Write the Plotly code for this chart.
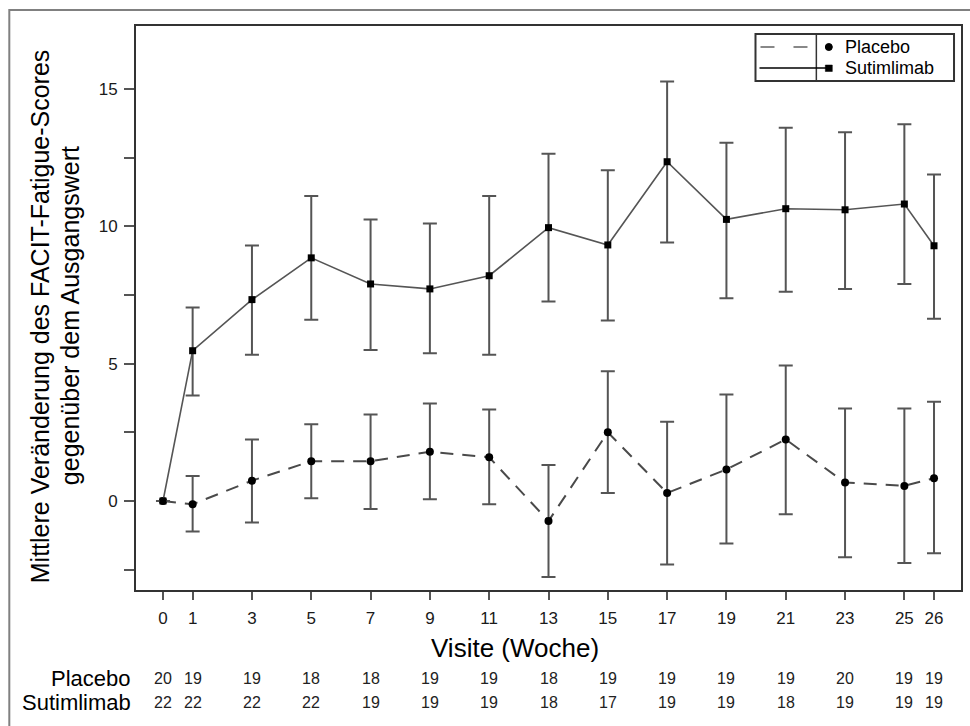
import plotly.graph_objects as go

weeks = [0, 1, 3, 5, 7, 9, 11, 13, 15, 17, 19, 21, 23, 25, 26]
tick_labels = [str(w) for w in weeks]

placebo_mean = [0.0, -0.12, 0.74, 1.45, 1.45, 1.79, 1.59, -0.73, 2.50, 0.29, 1.15, 2.24, 0.67, 0.55, 0.83]
placebo_upper = [0.0, 0.91, 2.24, 2.79, 3.15, 3.55, 3.33, 1.31, 4.72, 2.88, 3.88, 4.93, 3.37, 3.37, 3.61]
placebo_lower = [0.0, -1.11, -0.78, 0.10, -0.29, 0.06, -0.12, -2.77, 0.29, -2.31, -1.55, -0.48, -2.05, -2.26, -1.90]

suti_mean = [0.0, 5.47, 7.33, 8.85, 7.90, 7.72, 8.20, 9.95, 9.32, 12.35, 10.25, 10.64, 10.60, 10.81, 9.29]
suti_upper = [0.0, 7.04, 9.30, 11.10, 10.25, 10.10, 11.10, 12.64, 12.04, 15.27, 13.04, 13.59, 13.42, 13.71, 11.88]
suti_lower = [0.0, 3.84, 5.32, 6.60, 5.50, 5.38, 5.32, 7.26, 6.57, 9.41, 7.38, 7.62, 7.72, 7.90, 6.63]

n_placebo = [20, 19, 19, 18, 18, 19, 19, 18, 19, 19, 19, 19, 20, 19, 19]
n_suti = [22, 22, 22, 22, 19, 19, 19, 18, 17, 19, 19, 18, 19, 19, 19]

W, H = 970, 726
L, R, T, B = 136, 963, 26, 590
pw, ph = R - L, B - T


def px(x):
    return (x - L) / pw


def py(y):
    return (B - y) / ph


ARIAL = "Arial, Liberation Sans, sans-serif"

fig = go.Figure()

fig.add_trace(go.Scatter(
    x=weeks, y=placebo_mean, mode="lines+markers", name="Placebo",
    line=dict(color="#4a4a4a", width=2, dash="13px,9px"),
    marker=dict(symbol="circle", size=8, color="black"),
    error_y=dict(type="data", symmetric=False,
                 array=[u - m for u, m in zip(placebo_upper, placebo_mean)],
                 arrayminus=[m - l for m, l in zip(placebo_mean, placebo_lower)],
                 color="#555555", thickness=2, width=7),
    showlegend=False,
))

fig.add_trace(go.Scatter(
    x=weeks, y=suti_mean, mode="lines+markers", name="Sutimlimab",
    line=dict(color="#555555", width=1.6),
    marker=dict(symbol="square", size=7, color="black"),
    error_y=dict(type="data", symmetric=False,
                 array=[u - m for u, m in zip(suti_upper, suti_mean)],
                 arrayminus=[m - l for m, l in zip(suti_mean, suti_lower)],
                 color="#555555", thickness=2, width=7),
    showlegend=False,
))

annotations = []
# Y-axis title (two lines)
annotations.append(dict(
    x=px(40), y=py(316), xref="paper", yref="paper",
    text="Mittlere Veränderung des FACIT-Fatigue-Scores",
    textangle=-90, showarrow=False, xanchor="center", yanchor="middle",
    font=dict(family=ARIAL, size=25, color="black"),
))
annotations.append(dict(
    x=px(70), y=py(316), xref="paper", yref="paper",
    text="gegenüber dem Ausgangswert",
    textangle=-90, showarrow=False, xanchor="center", yanchor="middle",
    font=dict(family=ARIAL, size=25, color="black"),
))
# X-axis title
annotations.append(dict(
    x=px(516), y=py(648), xref="paper", yref="paper",
    text="Visite (Woche)", showarrow=False, xanchor="center", yanchor="middle",
    font=dict(family=ARIAL, size=26, color="black"),
))
# Count rows
for label, counts, yy in [("Placebo", n_placebo, 678), ("Sutimlimab", n_suti, 702)]:
    annotations.append(dict(
        x=px(133), y=py(yy), xref="paper", yref="paper", text=label,
        showarrow=False, xanchor="right", yanchor="middle",
        font=dict(family=ARIAL, size=22, color="black"),
    ))
    for w, c in zip(weeks, counts):
        annotations.append(dict(
            x=w, y=py(yy), xref="x", yref="paper", text=str(c),
            showarrow=False, xanchor="center", yanchor="middle",
            font=dict(family=ARIAL, size=16, color="#222222"),
        ))

# Legend (drawn manually)
annotations.append(dict(x=px(845), y=py(47), xref="paper", yref="paper", text="Placebo",
                        showarrow=False, xanchor="left", yanchor="middle",
                        font=dict(family=ARIAL, size=18, color="black")))
annotations.append(dict(x=px(845), y=py(68), xref="paper", yref="paper", text="Sutimlimab",
                        showarrow=False, xanchor="left", yanchor="middle",
                        font=dict(family=ARIAL, size=18, color="black")))

shapes = []
# outer border
shapes.append(dict(type="rect", xref="paper", yref="paper",
                   x0=px(9), y0=py(10), x1=px(990), y1=py(745),
                   line=dict(color="#808080", width=2), layer="below"))
# legend box and divider
shapes.append(dict(type="rect", xref="paper", yref="paper",
                   x0=px(757), y0=py(34), x1=px(956), y1=py(81),
                   line=dict(color="#333333", width=2), fillcolor="white"))
shapes.append(dict(type="line", xref="paper", yref="paper",
                   x0=px(818), y0=py(34), x1=px(818), y1=py(81),
                   line=dict(color="#333333", width=1.5)))
# legend samples
shapes.append(dict(type="line", xref="paper", yref="paper",
                   x0=px(762), y0=py(47), x1=px(810), y1=py(47),
                   line=dict(color="#888888", width=2, dash="14px,19px")))
shapes.append(dict(type="circle", xref="paper", yref="paper",
                   x0=px(827), y0=py(43.5), x1=px(834), y1=py(50.5),
                   line=dict(color="black", width=1), fillcolor="black"))
shapes.append(dict(type="line", xref="paper", yref="paper",
                   x0=px(761), y0=py(68), x1=px(832), y1=py(68),
                   line=dict(color="black", width=1.3)))
shapes.append(dict(type="rect", xref="paper", yref="paper",
                   x0=px(827), y0=py(65), x1=px(834), y1=py(71.5),
                   line=dict(color="black", width=0.5), fillcolor="black"))

fig.update_layout(
    width=W, height=H,
    margin=dict(l=L, r=W - R, t=T, b=H - B),
    paper_bgcolor="white", plot_bgcolor="white",
    showlegend=False,
    annotations=annotations, shapes=shapes,
    xaxis=dict(
        range=[-0.91, 26.91], tickmode="array", tickvals=weeks, ticktext=tick_labels,
        showgrid=False, zeroline=False,
        showline=True, linecolor="#333333", linewidth=2, mirror=True,
        ticks="outside", ticklen=8, tickwidth=2, tickcolor="#555555",
        ticklabelstandoff=4,
        tickfont=dict(family=ARIAL, size=17, color="#1a1a1a"),
    ),
    yaxis=dict(
        range=[-3.24, 17.29], tickmode="array", tickvals=[0, 5, 10, 15],
        showgrid=False, zeroline=False,
        showline=True, linecolor="#333333", linewidth=2, mirror=True,
        ticks="outside", ticklen=10, tickwidth=2, tickcolor="#555555",
        ticklabelstandoff=3,
        tickfont=dict(family=ARIAL, size=17, color="#1a1a1a"),
        minor=dict(tickmode="array", tickvals=[-2.5, 2.5, 7.5, 12.5],
                   ticks="outside", ticklen=10, tickwidth=2, tickcolor="#555555"),
    ),
)

fig.write_html("out.html")
